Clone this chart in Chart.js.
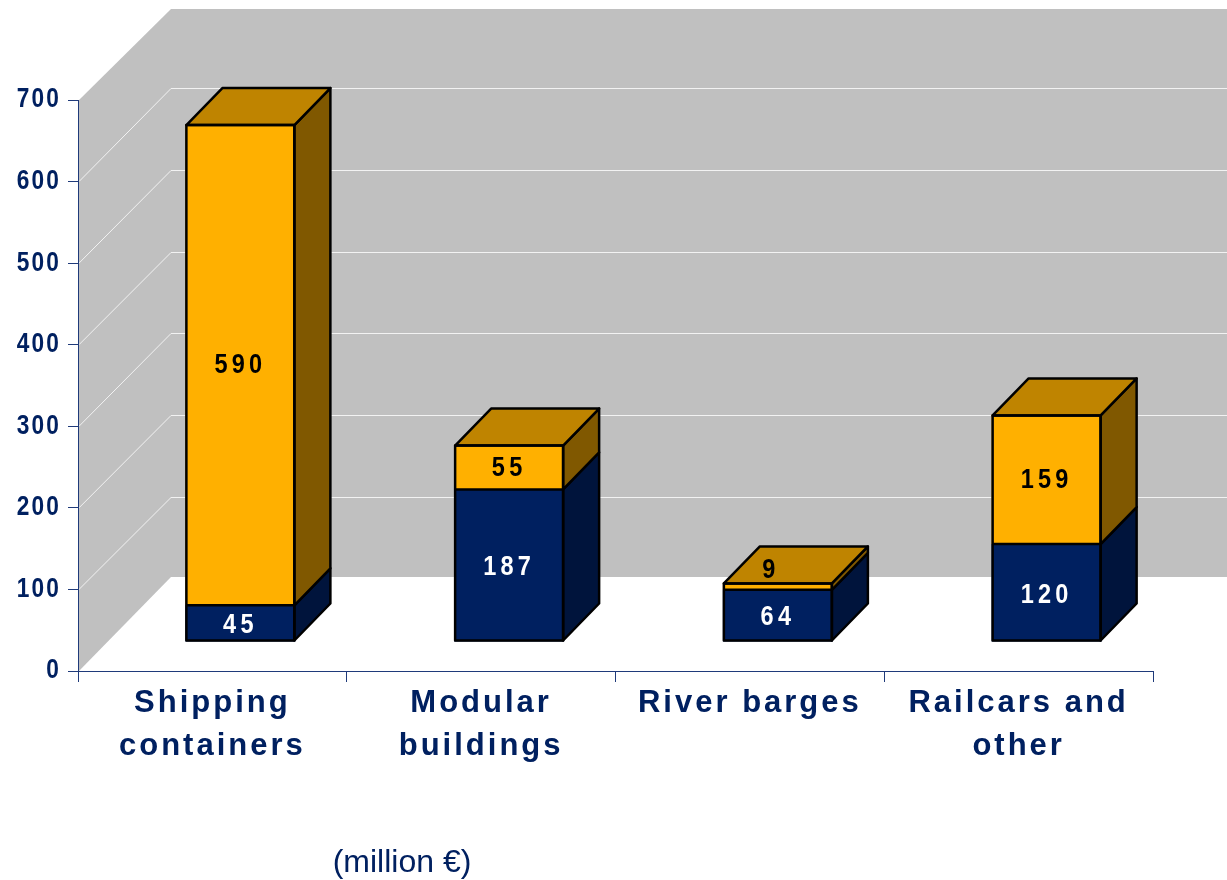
<!DOCTYPE html>
<html>
<head>
<meta charset="utf-8">
<title>Revenue by product</title>
<script src="https://cdn.jsdelivr.net/npm/chart.js@4"></script>
<style>
    html, body { margin: 0; padding: 0; background: #fff; }
    canvas { display: block; }
</style>
</head>
<body>
<canvas id="barChart" width="1227" height="880"></canvas>
<script>
const categories = [['Shipping', 'containers'], ['Modular', 'buildings'], ['River barges'], ['Railcars and', 'other']];
const navyValues = [45, 187, 64, 120];
const amberValues = [590, 55, 9, 159];
const yTicks = [0, 100, 200, 300, 400, 500, 600, 700];
const unitLabel = '(million €)';

const NAVY = '#002060';
const AMBER = '#FFB000';
const WALL = '#C0C0C0';
const FONT = '"Liberation Sans", Arial, sans-serif';

// plain scales plus letter spacing on the tick labels
class SpacedCategoryScale extends Chart.CategoryScale {
    drawLabels(area) {
        this.ctx.letterSpacing = '3px';
        super.drawLabels(area);
        this.ctx.letterSpacing = '0px';
    }
}
SpacedCategoryScale.id = 'spacedCategory';
SpacedCategoryScale.defaults = Chart.CategoryScale.defaults;

// the reference digits are narrow, so squeeze them around their right edge
class SpacedLinearScale extends Chart.LinearScale {
    drawLabels(area) {
        const ctx = this.ctx;
        const edge = this.right - 17;
        ctx.save();
        ctx.translate(edge, 0);
        ctx.scale(0.84, 1);
        ctx.translate(-edge, 0);
        ctx.letterSpacing = '2.5px';
        super.drawLabels(area);
        ctx.restore();
        ctx.letterSpacing = '0px';
    }
}
SpacedLinearScale.id = 'spacedLinear';
SpacedLinearScale.defaults = Chart.LinearScale.defaults;

Chart.register(SpacedCategoryScale, SpacedLinearScale);

// depth of the back wall and of the bars, in pixels
const wallDx = 92;
const wallDy = 92;
const barShiftX = 28;
const barShiftY = -29;
const barDx = 36;
const barDy = 37;

function fillPoly(ctx, points, fill, stroke) {
    ctx.beginPath();
    points.forEach((p, i) => i ? ctx.lineTo(p[0], p[1]) : ctx.moveTo(p[0], p[1]));
    ctx.closePath();
    ctx.fillStyle = fill;
    ctx.fill();
    if (stroke) {
        ctx.strokeStyle = stroke;
        ctx.lineWidth = 2.5;
        ctx.lineJoin = 'round';
        ctx.stroke();
    }
}

function squeezedText(ctx, text, x, y) {
    ctx.save();
    ctx.translate(x, y);
    ctx.scale(0.84, 1);
    ctx.fillText(text, 0, 0);
    ctx.restore();
}

const box3d = {
    id: 'box3d',
    beforeDraw(chart) {
        const ctx = chart.ctx;
        const y = chart.scales.y;
        const left = chart.scales.x.left + 1;
        const wallX = left + wallDx;
        const wallTop = y.getPixelForValue(700) - 91;
        const wallBottom = y.getPixelForValue(0) - 94;

        ctx.save();
        fillPoly(ctx, [[left, y.getPixelForValue(700)], [wallX, wallTop], [wallX, wallBottom], [left, y.getPixelForValue(0)]], WALL);
        ctx.fillStyle = WALL;
        ctx.fillRect(wallX, wallTop, chart.width - wallX, wallBottom - wallTop);

        ctx.strokeStyle = '#F2F2F2';
        ctx.lineWidth = 1;
        yTicks.slice(1, -1).forEach(v => {
            const py = y.getPixelForValue(v);
            // back wall lines are spaced a touch wider than the axis ticks
            const backY = Math.round(py - wallDy - (v - 100) * 0.004) + 0.5;
            ctx.beginPath();
            ctx.moveTo(left, py);
            ctx.lineTo(wallX, backY);
            ctx.lineTo(chart.width, backY);
            ctx.stroke();
        });
        ctx.restore();
    },
    beforeDatasetsDraw(chart) {
        chart.ctx.save();
        chart.ctx.translate(barShiftX, barShiftY);
    },
    afterDatasetsDraw(chart) {
        const ctx = chart.ctx;
        const navyBars = chart.getDatasetMeta(0).data;
        const amberBars = chart.getDatasetMeta(1).data;

        // still translated: the faces sit on the same shifted bars
        categories.forEach((c, i) => {
            const lower = navyBars[i];
            const upper = amberBars[i];
            const l = lower.x - lower.width / 2 + 1;
            const r = lower.x + lower.width / 2 - 1;
            const bottom = lower.base - 1;
            const mid = lower.y;
            const top = upper.y + 1;
            fillPoly(ctx, [[r, bottom], [r + barDx, bottom - barDy], [r + barDx, mid - barDy], [r, mid]], '#00143C', '#000');
            fillPoly(ctx, [[r, mid], [r + barDx, mid - barDy], [r + barDx, top - barDy], [r, top]], '#805800', '#000');
            fillPoly(ctx, [[l, top], [l + barDx, top - barDy], [r + barDx, top - barDy], [r, top]], '#BF8400', '#000');

            // front outline and the divider between the two segments
            ctx.strokeStyle = '#000';
            ctx.lineWidth = 2.5;
            ctx.strokeRect(l, top, r - l, bottom - top);
            ctx.beginPath();
            ctx.moveTo(l, mid);
            ctx.lineTo(r, mid);
            ctx.stroke();
        });

        ctx.font = 'bold 28px ' + FONT;
        ctx.letterSpacing = '5px';
        ctx.textAlign = 'center';
        ctx.textBaseline = 'middle';
        categories.forEach((c, i) => {
            const lower = navyBars[i];
            const upper = amberBars[i];
            ctx.fillStyle = '#fff';
            squeezedText(ctx, navyValues[i], lower.x, (lower.y + lower.base) / 2 + 2);
            ctx.fillStyle = '#000';
            // the thin slice has its label lifted onto the top face
            if (upper.base - upper.y < 20) {
                squeezedText(ctx, amberValues[i], upper.x - 7, upper.y - 12);
            } else {
                squeezedText(ctx, amberValues[i], upper.x, (upper.y + upper.base) / 2 + 1);
            }
        });
        ctx.letterSpacing = '0px';
        ctx.restore();

        ctx.save();
        ctx.font = '32px ' + FONT;
        ctx.fillStyle = NAVY;
        ctx.textAlign = 'center';
        ctx.textBaseline = 'middle';
        ctx.fillText(unitLabel, 402, 863);
        ctx.restore();
    }
};

new Chart(document.getElementById('barChart').getContext('2d'), {
    type: 'bar',
    data: {
        labels: categories,
        datasets: [
            { data: navyValues, backgroundColor: NAVY },
            { data: amberValues, backgroundColor: AMBER }
        ]
    },
    options: {
        responsive: false,
        animation: false,
        layout: { padding: { top: 100, right: 74, bottom: 0, left: 0 } },
        plugins: {
            legend: { display: false },
            title: { display: false },
            tooltip: { enabled: false }
        },
        datasets: {
            bar: {
                barThickness: 110,
                borderWidth: 0,
                inflateAmount: 0,
                clip: false
            }
        },
        scales: {
            x: {
                type: 'spacedCategory',
                stacked: true,
                afterFit(scale) { scale.height = 209; },
                border: { color: '#1F3A7A', width: 1 },
                grid: { offset: true, drawOnChartArea: false, color: '#1F3A7A', tickLength: 11 },
                ticks: {
                    color: NAVY,
                    maxRotation: 0,
                    autoSkip: false,
                    padding: 0,
                    font: { family: FONT, size: 31, weight: 'bold', lineHeight: 1.39 }
                }
            },
            y: {
                type: 'spacedLinear',
                stacked: true,
                min: 0,
                max: 700,
                afterFit(scale) { scale.width = 78; },
                afterBuildTicks(scale) { scale.ticks = yTicks.map(value => ({ value })); },
                border: { color: '#1F3A7A', width: 1 },
                grid: { drawOnChartArea: false, color: '#1F3A7A', tickLength: 10 },
                ticks: {
                    color: NAVY,
                    padding: 7,
                    font: { family: FONT, size: 27, weight: 'bold' }
                }
            }
        }
    },
    plugins: [box3d]
});
</script>
</body>
</html>
